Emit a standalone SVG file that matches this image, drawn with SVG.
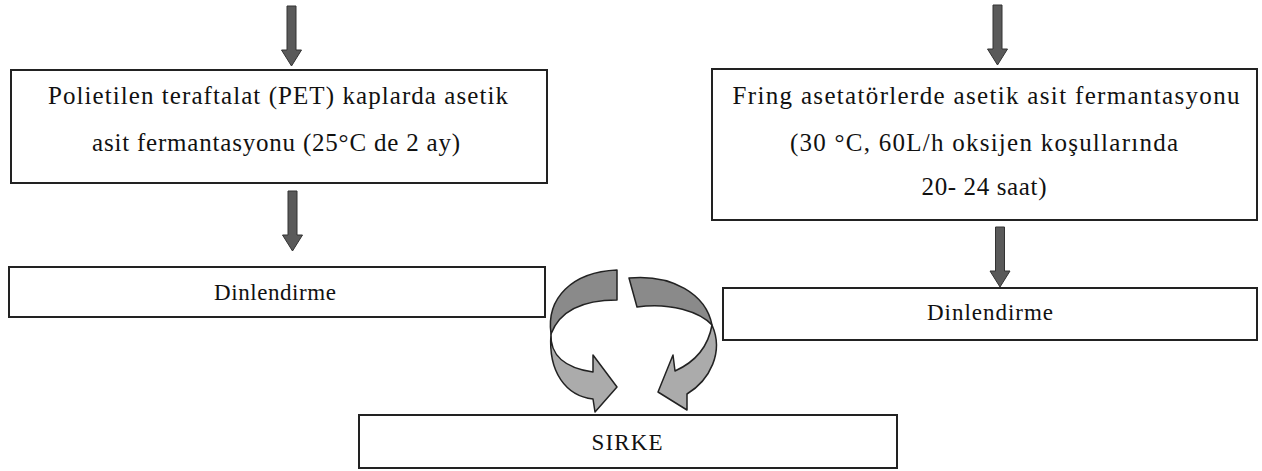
<svg xmlns="http://www.w3.org/2000/svg" width="1262" height="471" viewBox="0 0 1262 471">
<style>
.box{fill:#fff;stroke:#222;stroke-width:2}
.t{font-family:"Liberation Serif","Times New Roman",serif;fill:#111;text-anchor:middle}
.big{font-size:25px}
.small{font-size:23px}
.da{fill:#5a5a5a;stroke:#333;stroke-width:1}
.cd{fill:#8a8a8a;stroke:#222;stroke-width:1.5;stroke-linejoin:round}
.cl{fill:#ababab;stroke:#222;stroke-width:1.5;stroke-linejoin:round}
</style>
<defs>
<path id="darr" d="M-4.5,0 H4.5 V44 H10 L0,60 L-10,44 H-4.5 Z"/>
</defs>
<rect width="1262" height="471" fill="#fff"/>
<g id="connectors">
<use href="#darr" class="da" transform="translate(291.5,6)"/>
<use href="#darr" class="da" transform="translate(292.5,191)"/>
<use href="#darr" class="da" transform="translate(997.5,5)"/>
<use href="#darr" class="da" transform="translate(1000,227)"/>
<g id="curved-left">
<path class="cl" d="M551,334 C550,355 565,368 593,372 L593,355 L617,387 L595,412 L593,399 C566,396 548,372 551,334 Z"/>
<path class="cd" d="M617,270 L617,300 C585,300 560,310 551,334 C546,298 572,272 617,270 Z"/>
</g>
<g id="curved-right">
<path class="cl" d="M712,325 C724,352 710,380 687,394 L687,410 L658,392 L673,355 L675,371 C695,362 708,348 712,325 Z"/>
<path class="cd" d="M629,278 C672,274 706,294 712,325 C700,312 670,302 637,307 Z"/>
</g>
</g>
<g id="node-pet">
<rect class="box" x="11" y="70" width="536" height="113"/>
<text class="t big" x="278" y="104" textLength="460" lengthAdjust="spacing">Polietilen teraftalat (PET) kaplarda asetik</text>
<text class="t big" x="276" y="151" textLength="368" lengthAdjust="spacing">asit fermantasyonu (25°C de 2 ay)</text>
</g>
<g id="node-fring">
<rect class="box" x="712" y="69" width="545" height="151"/>
<text class="t big" x="986" y="104" textLength="507" lengthAdjust="spacing">Fring asetatörlerde asetik asit fermantasyonu</text>
<text class="t big" x="984" y="151" textLength="388" lengthAdjust="spacing">(30 °C, 60L/h oksijen koşullarında</text>
<text class="t big" x="984" y="195" textLength="125" lengthAdjust="spacing">20- 24 saat)</text>
</g>
<g id="node-dinl1">
<rect class="box" x="9" y="267" width="536" height="50"/>
<text class="t small" x="275" y="300" textLength="122" lengthAdjust="spacing">Dinlendirme</text>
</g>
<g id="node-dinl2">
<rect class="box" x="723" y="288" width="534" height="52"/>
<text class="t small" x="990" y="320" textLength="126" lengthAdjust="spacing">Dinlendirme</text>
</g>
<g id="node-sirke">
<rect class="box" x="359" y="415" width="538" height="53"/>
<text class="t small" x="627" y="450" textLength="71" lengthAdjust="spacing">SIRKE</text>
</g>
</svg>
